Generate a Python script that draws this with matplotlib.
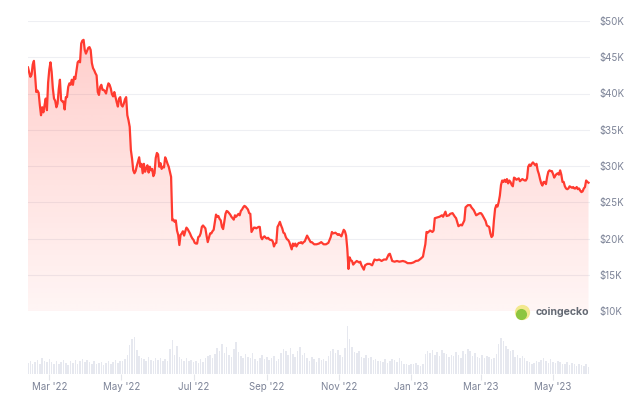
import numpy as np
import pandas as pd
import matplotlib
matplotlib.use("Agg")
import matplotlib.pyplot as plt
import matplotlib.dates as mdates
from matplotlib.patches import Polygon

plt.rcParams['font.family'] = ['Inter', 'DejaVu Sans']

# BTC price (thousands of USD)
price_dates = [
    '2022-02-11', '2022-02-12', '2022-02-13', '2022-02-14', '2022-02-15', '2022-02-16', '2022-02-17',
    '2022-02-18', '2022-02-19', '2022-02-20', '2022-02-21', '2022-02-22', '2022-02-23', '2022-02-24',
    '2022-02-25', '2022-02-26', '2022-02-27', '2022-02-28', '2022-03-01', '2022-03-02', '2022-03-03',
    '2022-03-04', '2022-03-05', '2022-03-06', '2022-03-07', '2022-03-08', '2022-03-09', '2022-03-10',
    '2022-03-11', '2022-03-12', '2022-03-13', '2022-03-14', '2022-03-15', '2022-03-16', '2022-03-17',
    '2022-03-18', '2022-03-19', '2022-03-20', '2022-03-21', '2022-03-22', '2022-03-23', '2022-03-24',
    '2022-03-25', '2022-03-26', '2022-03-27', '2022-03-28', '2022-03-29', '2022-03-30', '2022-03-31',
    '2022-04-01', '2022-04-02', '2022-04-03', '2022-04-04', '2022-04-05', '2022-04-06', '2022-04-07',
    '2022-04-08', '2022-04-09', '2022-04-10', '2022-04-11', '2022-04-12', '2022-04-13', '2022-04-14',
    '2022-04-15', '2022-04-16', '2022-04-17', '2022-04-18', '2022-04-19', '2022-04-20', '2022-04-21',
    '2022-04-22', '2022-04-23', '2022-04-24', '2022-04-25', '2022-04-26', '2022-04-27', '2022-04-28',
    '2022-04-29', '2022-04-30', '2022-05-01', '2022-05-02', '2022-05-03', '2022-05-04', '2022-05-05',
    '2022-05-06', '2022-05-07', '2022-05-08', '2022-05-09', '2022-05-10', '2022-05-11', '2022-05-12',
    '2022-05-13', '2022-05-14', '2022-05-15', '2022-05-16', '2022-05-17', '2022-05-18', '2022-05-19',
    '2022-05-20', '2022-05-21', '2022-05-22', '2022-05-23', '2022-05-24', '2022-05-25', '2022-05-26',
    '2022-05-27', '2022-05-28', '2022-05-29', '2022-05-30', '2022-05-31', '2022-06-01', '2022-06-02',
    '2022-06-03', '2022-06-04', '2022-06-05', '2022-06-06', '2022-06-07', '2022-06-08', '2022-06-09',
    '2022-06-10', '2022-06-11', '2022-06-12', '2022-06-13', '2022-06-14', '2022-06-15', '2022-06-16',
    '2022-06-17', '2022-06-18', '2022-06-19', '2022-06-20', '2022-06-21', '2022-06-22', '2022-06-23',
    '2022-06-24', '2022-06-25', '2022-06-26', '2022-06-27', '2022-06-28', '2022-06-29', '2022-06-30',
    '2022-07-01', '2022-07-02', '2022-07-03', '2022-07-04', '2022-07-05', '2022-07-06', '2022-07-07',
    '2022-07-08', '2022-07-09', '2022-07-10', '2022-07-11', '2022-07-12', '2022-07-13', '2022-07-14',
    '2022-07-15', '2022-07-16', '2022-07-17', '2022-07-18', '2022-07-19', '2022-07-20', '2022-07-21',
    '2022-07-22', '2022-07-23', '2022-07-24', '2022-07-25', '2022-07-26', '2022-07-27', '2022-07-28',
    '2022-07-29', '2022-07-30', '2022-07-31', '2022-08-01', '2022-08-02', '2022-08-03', '2022-08-04',
    '2022-08-05', '2022-08-06', '2022-08-07', '2022-08-08', '2022-08-09', '2022-08-10', '2022-08-11',
    '2022-08-12', '2022-08-13', '2022-08-14', '2022-08-15', '2022-08-16', '2022-08-17', '2022-08-18',
    '2022-08-19', '2022-08-20', '2022-08-21', '2022-08-22', '2022-08-23', '2022-08-24', '2022-08-25',
    '2022-08-26', '2022-08-27', '2022-08-28', '2022-08-29', '2022-08-30', '2022-08-31', '2022-09-01',
    '2022-09-02', '2022-09-03', '2022-09-04', '2022-09-05', '2022-09-06', '2022-09-07', '2022-09-08',
    '2022-09-09', '2022-09-10', '2022-09-11', '2022-09-12', '2022-09-13', '2022-09-14', '2022-09-15',
    '2022-09-16', '2022-09-17', '2022-09-18', '2022-09-19', '2022-09-20', '2022-09-21', '2022-09-22',
    '2022-09-23', '2022-09-24', '2022-09-25', '2022-09-26', '2022-09-27', '2022-09-28', '2022-09-29',
    '2022-09-30', '2022-10-01', '2022-10-02', '2022-10-03', '2022-10-04', '2022-10-05', '2022-10-06',
    '2022-10-07', '2022-10-08', '2022-10-09', '2022-10-11', '2022-10-13', '2022-10-15', '2022-10-17',
    '2022-10-19', '2022-10-21', '2022-10-23', '2022-10-24', '2022-10-25', '2022-10-26', '2022-10-27',
    '2022-10-29', '2022-10-31', '2022-11-01', '2022-11-03', '2022-11-05', '2022-11-06', '2022-11-07',
    '2022-11-08', '2022-11-09', '2022-11-10', '2022-11-11', '2022-11-12', '2022-11-13', '2022-11-14',
    '2022-11-16', '2022-11-18', '2022-11-19', '2022-11-20', '2022-11-22', '2022-11-23', '2022-11-25',
    '2022-11-27', '2022-11-29', '2022-12-01', '2022-12-03', '2022-12-05', '2022-12-07', '2022-12-09',
    '2022-12-11', '2022-12-13', '2022-12-14', '2022-12-15', '2022-12-16', '2022-12-18', '2022-12-20',
    '2022-12-22', '2022-12-25', '2022-12-27', '2022-12-29', '2023-01-01', '2023-01-03', '2023-01-05',
    '2023-01-07', '2023-01-09', '2023-01-11', '2023-01-12', '2023-01-13', '2023-01-14', '2023-01-15',
    '2023-01-17', '2023-01-19', '2023-01-20', '2023-01-21', '2023-01-23', '2023-01-25', '2023-01-27',
    '2023-01-28', '2023-01-30', '2023-01-31', '2023-02-02', '2023-02-03', '2023-02-05', '2023-02-07',
    '2023-02-08', '2023-02-10', '2023-02-12', '2023-02-13', '2023-02-15', '2023-02-16', '2023-02-18',
    '2023-02-20', '2023-02-21', '2023-02-23', '2023-02-25', '2023-02-26', '2023-02-28', '2023-03-01',
    '2023-03-02', '2023-03-03', '2023-03-05', '2023-03-06', '2023-03-08', '2023-03-09', '2023-03-10',
    '2023-03-11', '2023-03-12', '2023-03-13', '2023-03-14', '2023-03-15', '2023-03-16', '2023-03-17',
    '2023-03-18', '2023-03-19', '2023-03-20', '2023-03-21', '2023-03-22', '2023-03-23', '2023-03-24',
    '2023-03-25', '2023-03-26', '2023-03-27', '2023-03-28', '2023-03-29', '2023-03-30', '2023-03-31',
    '2023-04-02', '2023-04-03', '2023-04-05', '2023-04-07', '2023-04-08', '2023-04-09', '2023-04-10',
    '2023-04-11', '2023-04-12', '2023-04-13', '2023-04-14', '2023-04-15', '2023-04-16', '2023-04-17',
    '2023-04-18', '2023-04-19', '2023-04-20', '2023-04-21', '2023-04-22', '2023-04-23', '2023-04-24',
    '2023-04-25', '2023-04-26', '2023-04-27', '2023-04-28', '2023-04-29', '2023-04-30', '2023-05-01',
    '2023-05-02', '2023-05-03', '2023-05-04', '2023-05-05', '2023-05-06', '2023-05-07', '2023-05-08',
    '2023-05-09', '2023-05-10', '2023-05-11', '2023-05-12', '2023-05-13', '2023-05-14', '2023-05-15',
    '2023-05-16', '2023-05-17', '2023-05-18', '2023-05-19', '2023-05-20', '2023-05-21', '2023-05-22',
    '2023-05-23', '2023-05-24', '2023-05-25', '2023-05-26', '2023-05-27', '2023-05-28', '2023-05-29',
    '2023-05-30', '2023-05-31',
]
price_k = [
    43.6, 42.9, 42.3, 42.6, 44.0, 44.5, 42.5,
    40.2, 40.4, 40.1, 38.4, 37.0, 38.1, 37.4,
    38.4, 39.3, 37.7, 41.5, 43.3, 44.3, 43.0,
    40.7, 39.3, 39.0, 38.1, 38.6, 40.6, 41.9,
    39.1, 38.9, 38.9, 37.8, 39.5, 39.5, 40.9,
    41.4, 41.2, 41.9, 41.2, 42.3, 42.0, 43.1,
    44.3, 44.5, 44.3, 46.9, 47.3, 47.4, 46.0,
    45.5, 45.9, 46.3, 46.4, 46.0, 44.2, 43.5,
    43.2, 42.8, 42.5, 40.2, 39.8, 40.9, 41.2,
    40.5, 40.5, 40.3, 40.0, 40.8, 41.4, 41.2,
    40.7, 39.9, 39.6, 40.2, 39.5, 38.8, 38.2,
    39.3, 39.5, 38.4, 38.2, 38.6, 39.2, 39.5,
    37.0, 36.3, 35.4, 32.2, 31.0, 29.4, 29.0,
    29.3, 30.0, 30.6, 31.2, 29.9, 30.3, 29.0,
    30.3, 29.2, 29.7, 30.1, 29.1, 29.9, 29.4,
    29.6, 28.6, 29.0, 31.1, 31.8, 31.6, 29.9,
    30.4, 29.6, 29.9, 29.8, 31.2, 30.8, 30.3,
    29.9, 29.2, 28.5, 22.5, 22.6, 22.3, 22.5,
    21.1, 20.5, 19.1, 20.5, 20.7, 21.0, 20.4,
    21.0, 21.5, 21.3, 21.0, 20.7, 20.3, 20.0,
    19.8, 19.4, 19.3, 19.3, 20.2, 20.3, 20.7,
    21.6, 21.8, 21.6, 21.4, 20.4, 19.5, 20.1,
    20.7, 20.7, 21.0, 21.2, 22.3, 23.3, 23.0,
    23.1, 22.7, 22.5, 21.6, 21.3, 22.3, 23.4,
    23.8, 23.7, 23.5, 23.3, 23.0, 22.8, 22.6,
    23.2, 23.0, 23.2, 23.4, 23.2, 23.8, 24.0,
    24.3, 24.5, 24.4, 24.2, 24.0, 23.5, 23.4,
    20.9, 21.2, 21.5, 21.5, 21.4, 21.5, 21.6,
    21.6, 20.2, 19.9, 20.2, 20.3, 20.1, 20.0,
    20.1, 19.9, 19.8, 19.8, 19.6, 18.9, 19.3,
    19.4, 21.6, 21.9, 22.3, 21.8, 21.4, 20.8,
    20.7, 20.2, 19.9, 19.8, 19.5, 19.0, 18.5,
    19.3, 19.0, 19.3, 18.9, 19.2, 19.4, 19.4,
    19.5, 19.3, 19.5, 19.6, 20.0, 20.4, 20.1,
    19.8, 19.5, 19.5, 19.2, 19.2, 19.3, 19.5,
    19.2, 19.2, 19.4, 19.8, 20.2, 20.9, 20.7,
    20.8, 20.5, 20.6, 20.3, 21.2, 21.0, 20.4,
    18.6, 15.8, 17.4, 17.0, 16.9, 16.4, 16.6,
    16.9, 16.7, 16.8, 16.3, 15.7, 16.3, 16.5,
    16.5, 16.3, 17.1, 17.0, 17.1, 16.9, 17.1,
    17.1, 17.8, 17.9, 17.4, 16.9, 16.8, 16.9,
    16.8, 16.9, 16.8, 16.6, 16.6, 16.7, 16.9,
    16.95, 17.2, 17.5, 18.4, 19.2, 20.9, 20.8,
    21.1, 20.9, 21.1, 22.8, 22.9, 23.0, 23.2,
    23.0, 23.7, 23.1, 23.2, 23.4, 23.5, 23.0,
    22.8, 21.7, 21.9, 21.8, 22.5, 24.3, 24.6,
    24.6, 24.3, 23.9, 23.2, 23.3, 23.5, 23.5,
    23.3, 23.0, 22.4, 21.8, 21.6, 20.7, 20.2,
    20.4, 22.5, 24.1, 24.6, 24.4, 25.0, 25.9,
    27.4, 28.0, 27.8, 28.1, 27.8, 28.2, 27.6,
    28.0, 27.8, 27.4, 27.2, 28.4, 28.3, 28.1,
    28.3, 27.9, 28.2, 28.0, 28.0, 28.3, 29.9,
    30.2, 30.0, 30.3, 30.5, 30.3, 30.1, 30.3,
    29.4, 28.9, 28.2, 27.6, 27.3, 27.8, 27.8,
    27.5, 28.5, 29.2, 29.4, 29.3, 29.3, 28.9,
    28.4, 28.7, 28.9, 29.0, 28.8, 29.4, 28.8,
    27.8, 27.8, 27.2, 26.9, 26.8, 26.9, 27.2,
    27.1, 27.0, 27.1, 26.9, 26.9, 27.1, 26.8,
    26.9, 26.6, 26.4, 26.5, 26.9, 27.1, 28.0,
    27.8, 27.7,
]

# Trading volume bars, one every two days from 2022-02-11 (billions of USD)
volume_start = '2022-02-11'
volume_b = [
    26, 30, 24, 28, 33, 22, 38, 30, 27,
    34, 28, 24, 30, 22, 27, 32, 25, 21, 29, 26, 33, 24, 30, 35, 28,
    32, 27, 24, 31, 22, 26, 28, 21, 25, 30, 23, 27, 33, 25, 29,
    31, 35, 44, 66, 80, 86, 55, 42, 38, 35, 30, 40, 33, 29, 36, 33,
    38, 30, 34, 29, 58, 78, 45, 64, 40, 35, 31, 37, 29, 33, 27,
    30, 26, 34, 28, 36, 41, 44, 38, 46, 60, 52, 70, 48, 62, 44, 40,
    58, 74, 50, 42, 38, 46, 40, 36, 48, 34, 30, 38, 44, 35, 40, 32,
    36, 42, 30, 34, 48, 58, 52, 44, 60, 46, 40, 54, 62, 44, 48,
    36, 30, 40, 34, 28, 38, 32, 35, 30, 42, 54, 58, 48, 56, 45, 40,
    60, 110, 80, 62, 50, 48, 52, 40, 38, 44, 36, 40, 33, 34, 30,
    30, 28, 34, 26, 30, 35, 32, 28, 38, 30, 24, 22, 20, 24, 22, 26,
    20, 18, 22, 46, 52, 48, 56, 44, 50, 42, 55, 48, 46, 40, 45, 42,
    50, 44, 38, 52, 46, 58, 54, 42, 48, 40, 36, 44, 38, 42,
    40, 35, 38, 46, 70, 82, 76, 64, 58, 52, 56, 40, 45, 38, 42, 36,
    30, 28, 24, 26, 30, 27, 32, 36, 30, 26, 34, 28, 25, 30, 27,
    24, 22, 28, 20, 26, 22, 19, 24, 20, 18, 22, 17,
]

y_ticks_k = [10, 15, 20, 25, 30, 35, 40, 45, 50]

line_color = '#ff3b30'
text_color = '#7c8397'

x = pd.to_datetime(price_dates)
y = np.array(price_k) * 1000
x_num = mdates.date2num(x)
vol_x = pd.date_range(volume_start, periods=len(volume_b), freq='2D')

x_lo = mdates.date2num(pd.Timestamp('2022-02-11'))
x_hi = mdates.date2num(pd.Timestamp('2023-06-01 06:00'))
y_lo, y_hi = y_ticks_k[0] * 1000, y_ticks_k[-1] * 1000

fig = plt.figure(figsize=(6.38, 3.98), dpi=100)
ax = fig.add_axes([28 / 638, 87 / 398, 562 / 638, 290 / 398])
vax = fig.add_axes([28 / 638, 24 / 398, 562 / 638, 52 / 398])

# gradient fill under the price line
alpha = np.linspace(0.05, 0.26, 256)
grad = np.zeros((256, 1, 4))
grad[:, 0, 0] = 1.0
grad[:, 0, 1] = 59 / 255
grad[:, 0, 2] = 48 / 255
grad[:, 0, 3] = alpha
im = ax.imshow(grad, extent=[x_lo, x_hi, y_lo, y_hi], aspect='auto',
               origin='lower', zorder=2, interpolation='bilinear')
verts = [(x_num[0], y_lo)] + list(zip(x_num, y)) + [(x_num[-1], y_lo)]
clip = Polygon(verts, closed=True, facecolor='none', edgecolor='none',
               transform=ax.transData)
ax.add_patch(clip)
im.set_clip_path(clip)

ax.plot(x_num, y, color=line_color, lw=1.6, zorder=3, solid_joinstyle='round')

ax.set_xlim(x_lo, x_hi)
ax.set_ylim(y_lo, y_hi)
ax.set_yticks([v * 1000 for v in y_ticks_k])
ax.set_yticklabels([f'${v}K' for v in y_ticks_k])
ax.yaxis.tick_right()
ax.tick_params(axis='y', length=0, pad=7, labelsize=7, labelcolor=text_color)
ax.set_xticks([])
ax.grid(axis='y', color='#eeeff3', lw=0.8)
ax.set_axisbelow(True)
for s in ax.spines.values():
    s.set_visible(False)

# volume
vax.bar(vol_x, volume_b, width=1.3, color='#e6e8ef', lw=0)
vax.set_xlim(x_lo, x_hi)
vax.set_ylim(0, 120)
vax.set_yticks([])
vax.xaxis.set_major_locator(mdates.MonthLocator(bymonth=(1, 3, 5, 7, 9, 11)))
vax.xaxis.set_major_formatter(mdates.DateFormatter("%b '%y"))
vax.tick_params(axis='x', length=4, color='#e3e5ea', labelsize=7,
                labelcolor=text_color, pad=2)
for s in vax.spines.values():
    s.set_visible(False)

# coingecko watermark
lx, ly = 522 / 638, 1 - 312 / 398
fig.add_artist(plt.Line2D([lx], [ly], marker='o', ms=11, color='#f3e88e',
                          mec='none', transform=fig.transFigure))
fig.add_artist(plt.Line2D([lx - 0.001], [ly - 0.004], marker='o', ms=8, color='#8dc63f',
                          mec='none', transform=fig.transFigure))
fig.text(536 / 638, ly, 'coingecko', ha='left', va='center', fontsize=7.6,
         fontweight='bold', color='#646a74')

fig.savefig('out.png', dpi=100)
